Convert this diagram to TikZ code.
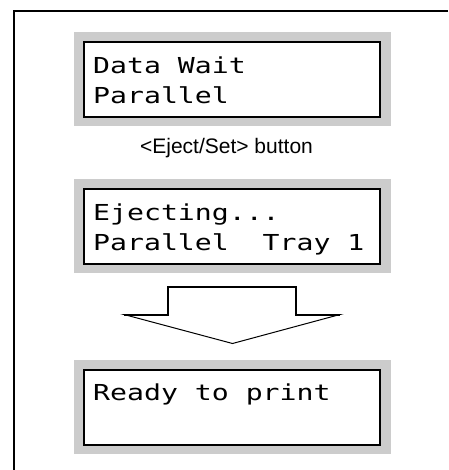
\documentclass[tikz,border=0pt]{standalone}
\usepackage{fontspec}
\setmainfont{Liberation Sans}
\newfontfamily\lcdfont[FakeStretch=1.28]{DejaVu Sans Mono}
\definecolor{panelgray}{HTML}{CCCCCC}
\begin{document}
\begin{tikzpicture}[x=1pt,y=-1pt,
  panel/.style={fill=panelgray, draw=none, minimum width=317pt, minimum height=94pt, inner sep=0pt, outer sep=0pt},
  screen/.style={draw=black, line width=2pt, fill=white, minimum width=296pt, minimum height=75pt, inner sep=0pt},
  lcd/.style={anchor=base west, inner sep=0pt, font=\lcdfont\fontsize{22}{22}\selectfont},
  caption/.style={anchor=base, inner sep=0pt, font=\fontsize{21}{22}\selectfont},
  frameline/.style={line width=2pt},
  bigarrow/.style={fill=white, draw=black, line width=1pt, line join=miter},
  arrowstem/.style={draw=black, line width=2pt, line join=miter}]
\useasboundingbox (0,0) rectangle (448,470);

% frame
\coordinate (fr) at (448,11);
\coordinate (fc) at (14,11);
\coordinate (fb) at (14,470);
\draw[frameline] (fr) -- (fc) -- (fb);

% panel 1
\node[panel] (p1) at (232.5,79) {};
\node[screen] (s1) at (232.3,79.2) {};
\node[lcd] (t1a) at (93,73.3) {Data Wait};
\node[lcd] (t1b) at (93,103.3) {Parallel};

% caption
\node[caption] (cap) at (226.5,153.3) {<Eject/Set> button};

% panel 2
\node[panel] (p2) at (232.5,226) {};
\node[screen] (s2) at (232.3,226.3) {};
\node[lcd] (t2a) at (93,220) {Ejecting...};
\node[lcd] (t2b) at (93,250.7) {Parallel\ \ Tray\ 1};

% arrow
\coordinate (sl) at (124,314.5);
\coordinate (sil) at (168.3,314.5);
\coordinate (stl) at (168.3,286.7);
\coordinate (str) at (296,286.7);
\coordinate (sir) at (296,314.5);
\coordinate (sr) at (340,314.5);
\coordinate (tip) at (232.5,343.5);
\filldraw[bigarrow] (sl) -- (sil) -- (stl) -- (str) -- (sir) -- (sr) -- (tip) -- cycle;
\draw[arrowstem] (sl) -- (sil) -- (stl) -- (str) -- (sir) -- (sr);

% panel 3
\node[panel] (p3) at (232.5,407) {};
\node[screen] (s3) at (232.3,407.2) {};
\node[lcd] (t3a) at (93,400.7) {Ready to print};
\end{tikzpicture}
\end{document}
